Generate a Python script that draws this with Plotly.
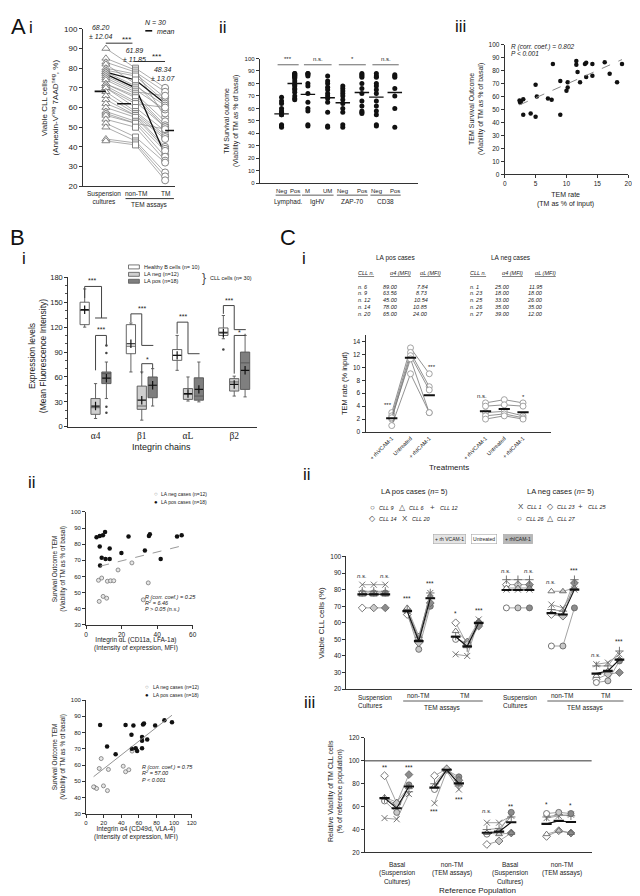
import numpy as np
import plotly.graph_objects as go

W, H = 640, 896
FONT = "Liberation Sans, Arial, sans-serif"
SERIF = "Liberation Serif, DejaVu Serif, serif"

def PX(x):
    return x / W

def PY(y):
    return 1 - y / H

# ======================= DATA =======================
# --- A i : viability, 30 patients
ai_categories = ["Suspension<br>cultures", "non-TM", "TM"]
ai_suspension = [90, 85, 83, 82, 80, 79, 78, 78, 77, 76, 75, 74, 72, 72, 71, 70, 70, 68, 66, 64, 62, 60, 58, 57, 56, 54, 52, 50, 44, 43]
ai_nontm = [80, 79, 78, 72, 77, 76, 74, 71, 70, 69, 68, 67, 66, 65, 63, 62, 60, 58, 57, 56, 56, 55, 53, 52, 52, 50, 45, 43, 42, 41]
ai_tm = [70, 55, 68, 57, 65, 63, 62, 61, 36, 59, 66, 53, 51, 50, 50, 60, 48, 46, 45, 44, 40, 39, 38, 49, 35, 33, 32, 27, 25, 23]
ai_highlight = [6, 8]
ai_stats = ["68.20<br>± 12.04", "61.89<br>± 11.85", "48.34<br>± 13.07"]

# --- A ii : TM survival outcome by prognostic marker
aii_groups = ["Lymphad.", "IgHV", "ZAP-70", "CD38"]
aii_sublabels = ["Neg", "Pos", "M", "UM", "Neg", "Pos", "Neg", "Pos"]
aii_values = [
    [69, 66, 64, 60, 58, 57, 55, 55, 47, 46, 45, 46],
    [88, 88, 87, 87, 86, 86, 85, 84, 82, 80, 79, 78, 76, 75, 73, 70, 68, 67],
    [88, 88, 87, 86, 80, 78, 72, 65, 60, 58, 47, 46],
    [86, 82, 80, 77, 75, 72, 70, 68, 65, 57, 46, 45],
    [78, 76, 74, 72, 70, 67, 64, 60, 57, 47, 45],
    [88, 87, 86, 85, 80, 76, 72, 66, 62, 58, 57, 56],
    [88, 86, 85, 80, 78, 75, 72, 66, 62, 58, 55, 47, 46],
    [87, 86, 85, 76, 70, 60, 45],
]
aii_significance = ["***", "n.s.", "*", "n.s."]

# --- A iii : TEM rate vs survival outcome
aiii_tem_rate = [2.4, 2.5, 2.6, 3.0, 3.0, 4.2, 5.0, 5.0, 5.2, 7.0, 7.6, 7.8, 9.0, 9.0, 10.0, 10.2, 10.2,
                 11.6, 11.6, 11.8, 12.2, 13.0, 13.2, 13.2, 14.2, 14.2, 16.2, 17.0, 18.2, 19.0]
aiii_survival = [57, 55.5, 56, 58, 46, 47, 44.5, 69, 60, 58.5, 57.5, 85, 72, 46, 64.5, 71, 67,
                 87.5, 84.5, 79, 71, 85, 86, 75, 85, 76, 86.5, 77.5, 71, 85]

# --- B i : integrin expression (box statistics)
bi_chains = ["α4", "β1", "αL", "β2"]
bi_groups = ["Healthy B cells (n= 10)", "LA neg (n=12)", "LA pos (n=18)"]
bi_q1 = [[123, 88, 80, 110], [15, 21, 33, 43], [52, 35, 32, 45]]
bi_median = [[140, 97, 86, 114], [23, 25, 39, 54], [64, 50, 37, 77]]
bi_q3 = [[150, 123, 93, 119], [34, 49, 46, 58], [66, 60, 59, 90]]
bi_low = [[120, 66, 68, 106], [10, 8, 31, 37], [34, 25, 30, 36]]
bi_high = [[166, 125, 110, 134], [52, 66, 60, 61], [78, 70, 78, 110]]
bi_mean = [[141, 100, 86, 113], [25, 32, 40, 51], [58.5, 50, 45, 68]]
bi_outliers = [[(4, 93)], [], [(1, 98), (1, 89), (1, 24), (1, 17)]]

# --- B ii : integrin alpha-L / alpha-4 vs survival
bii_aL_pos_x = [5.9, 7.7, 10.7, 7.7, 8.8, 11.0, 13.3, 13.3, 7.9, 19.9, 23.9, 33.1, 35.4, 35.9, 42.0, 51.2, 53.8, 9.5]
bii_aL_pos_y = [84.3, 85.0, 87.5, 78.6, 71.6, 70.8, 70.8, 77.3, 66.7, 74.5, 84.7, 76.1, 85.0, 86.1, 70.8, 84.7, 85.5, 85.5]
bii_aL_neg_x = [7.0, 8.8, 12.0, 13.8, 15.6, 18.0, 25.8, 7.4, 9.6, 11.6, 32.2, 35.0]
bii_aL_neg_y = [57.6, 59.0, 57.0, 57.3, 57.3, 64.0, 68.4, 44.5, 47.6, 46.5, 45.5, 56.0]
bii_a4_pos_x = [16, 44.9, 53.8, 64.7, 65.8, 78.5, 89, 97.6, 51.6, 63.6, 69.5, 63.6, 23.9, 56.4, 63.6, 33.6, 58.0, 52.0]
bii_a4_pos_y = [84.7, 84.7, 84.3, 84.9, 85.5, 84.3, 87.6, 86.3, 78.6, 77.3, 75.7, 74.9, 71.4, 70.4, 70.4, 66.6, 68.7, 70.0]
bii_a4_neg_x = [17.2, 15.0, 25.4, 42.2, 44.9, 48.6, 52.3, 9.7, 12.0, 19.8, 24.3, 8.6]
bii_a4_neg_y = [64.0, 57.9, 57.3, 59.3, 55.9, 57.1, 68.6, 46.4, 45.6, 47.2, 44.3, 46.6]

# --- C i : table + TEM rate per treatment
ci_pos_ids = ["n. 6", "n. 9", "n. 12", "n. 14", "n. 20"]
ci_pos_a4 = [89.00, 63.56, 45.00, 78.00, 65.00]
ci_pos_aL = [7.84, 8.73, 10.54, 10.85, 24.00]
ci_neg_ids = ["n. 1", "n. 23", "n. 25", "n. 26", "n. 27"]
ci_neg_a4 = [25.00, 18.00, 33.00, 35.00, 39.00]
ci_neg_aL = [11.95, 18.00, 26.00, 35.00, 12.00]
ci_treatments = ["+ rhVCAM-1", "Untreated", "+ rhICAM-1"]
ci_pos_rates = [[3.0, 13.0, 9.0], [2.5, 12.3, 7.0], [2.0, 11.8, 6.5], [2.2, 11.3, 3.0], [1.0, 9.0, 3.0]]
ci_neg_rates = [[4.5, 5.0, 4.5], [4.0, 4.2, 4.0], [3.0, 3.2, 2.5], [2.5, 2.8, 2.2], [2.0, 2.5, 2.0]]

# --- C ii : viability per case (rhVCAM-1, untreated, rhICAM-1)
pos_cases = ["CLL 9", "CLL 6", "CLL 12", "CLL 14", "CLL 20"]
neg_cases = ["CLL 1", "CLL 23", "CLL 25", "CLL 26", "CLL 27"]
cii_pos_susp = [[78, 78, 78], [77, 77, 77], [79, 79, 79], [69, 69, 69], [83, 83, 83]]
cii_pos_nontm = [[66, 44, 70], [69, 52, 76], [68, 50, 78], [65, 48, 72], [67, 51, 78]]
cii_pos_tm = [[50, 48, 60], [55, 49, 61], [52, 45, 59], [60, 47, 58], [41, 40, 62]]
cii_neg_susp = [[80, 80, 80], [83, 83, 83], [86, 86, 86], [69, 69, 69], [81, 81, 81]]
cii_neg_nontm = [[71, 69, 80], [65, 64, 84], [68, 67, 86], [46, 46, 69], [79, 79, 81]]
cii_neg_tm = [[35, 36, 41], [26, 29, 30], [34, 34, 43], [24, 25, 37], [28, 31, 38]]
cii_sig = [["n.s.", "n.s."], ["***", "***"], ["*", "***"], ["n.s.", "n.s."], ["n.s.", "***"], ["n.s.", "***"]]

# --- C iii : relative viability of TM cells
ciii_pos_basal = [[65, 55, 79], [68, 64, 77], [67, 62, 73], [87, 63, 88], [50, 49, 71]]
ciii_pos_nontm = [[75, 92, 86], [78, 92, 80], [80, 93, 78], [87, 93, 83], [63, 91, 75]]
ciii_neg_basal = [[46, 46, 52], [27, 30, 37], [40, 41, 51], [36, 38, 55], [37, 36, 37]]
ciii_neg_nontm = [[50, 52, 53], [34, 39, 37], [51, 53, 52], [54, 55, 54], [36, 39, 37]]
ciii_reference = 100

# ======================= FIGURE =======================
fig = go.Figure()
ann = []
shapes = []
layout_axes = {}


def T(text, x, y, size=7, color="#222", xanchor="center", yanchor="middle", angle=0,
      family=FONT, xref="paper", yref="paper", italic=False, **kw):
    if xref == "paper":
        x = PX(x)
    if yref == "paper":
        y = PY(y)
    if italic:
        text = "<i>" + text + "</i>"
    ann.append(dict(text=text, x=x, y=y, xref=xref, yref=yref, showarrow=False,
                    xanchor=xanchor, yanchor=yanchor, textangle=angle,
                    font=dict(size=size, color=color, family=family), **kw))


def L(x0, y0, x1, y1, xref="paper", yref="paper", color="#333", width=1, dash=None):
    if xref == "paper":
        x0, x1 = PX(x0), PX(x1)
    if yref == "paper":
        y0, y1 = PY(y0), PY(y1)
    shapes.append(dict(type="line", x0=x0, y0=y0, x1=x1, y1=y1, xref=xref, yref=yref,
                       line=dict(color=color, width=width, dash=dash)))


def axes(i, x0, x1, y0, y1, xr, yr, xkw=None, ykw=None):
    sx = "" if i == 1 else str(i)
    base = dict(showline=True, linecolor="#333", linewidth=1, ticks="outside", ticklen=3,
                tickwidth=1, tickcolor="#333", showgrid=False, zeroline=False,
                tickfont=dict(size=7, family=FONT, color="#222"), fixedrange=True)
    xd = dict(base, domain=[PX(x0), PX(x1)], range=xr, anchor="y" + sx)
    yd = dict(base, domain=[PY(y1), PY(y0)], range=yr, anchor="x" + sx)
    if xkw:
        xd.update(xkw)
    if ykw:
        yd.update(ykw)
    layout_axes["xaxis" + sx] = xd
    layout_axes["yaxis" + sx] = yd
    return "x" + sx, "y" + sx


def S(xa, ya, **kw):
    fig.add_trace(go.Scatter(xaxis=xa, yaxis=ya, hoverinfo="skip", showlegend=False, **kw))


NOX = dict(showticklabels=False, ticks="")

# ---------------- Panel labels ----------------
for txt, x, y, s in [("A", 9, 15, 22), ("i", 21, 16, 17), ("ii", 216, 16, 17), ("iii", 456, 15, 17),
                     ("B", 8, 228, 22), ("i", 14, 249, 17), ("C", 282, 228, 22), ("i", 298, 249, 17),
                     ("ii", 22, 475, 17), ("ii", 301, 467, 17), ("iii", 303, 698, 17)]:
    T(txt, x, y, size=s, color="#111")

# ---------------- A i ----------------
xa, ya = axes(1, 74, 167, 17, 176, [0.23, 3.33], [20, 100], NOX,
              dict(tickvals=list(range(20, 101, 10)), tickfont=dict(size=8, family=FONT, color="#222")))
ai_x = [1, 2, 3]
lx, ly, hx, hy = [], [], [], []
for i in range(len(ai_suspension)):
    trip = [ai_suspension[i], ai_nontm[i], ai_tm[i]]
    if i in ai_highlight:
        hx += ai_x + [None]
        hy += trip + [None]
    else:
        lx += ai_x + [None]
        ly += trip + [None]
S(xa, ya, x=lx, y=ly, mode="lines", line=dict(color="#8a8a8a", width=0.7))
S(xa, ya, x=hx, y=hy, mode="lines", line=dict(color="#111", width=1.3))
for xv, vals, sym, sz in [(1, ai_suspension, "triangle-up", 7), (2, ai_nontm, "square", 6), (3, ai_tm, "circle", 7)]:
    S(xa, ya, x=[xv] * len(vals), y=vals, mode="markers",
      marker=dict(symbol=sym, size=sz, color="white", line=dict(color="#777", width=0.9)))
ai_bar_x = [(0.62, 1.0), (1.38, 1.85), (3.0, 3.3)]
for (b0, b1), vals in zip(ai_bar_x, [ai_suspension, ai_nontm, ai_tm]):
    m = float(np.mean(vals))
    S(xa, ya, x=[b0, b1], y=[m, m], mode="lines", line=dict(color="#111", width=1.6))
T("Viable CLL cells<br>(Annexin-V<sup>neg</sup> 7AAD<sup>neg</sup>, %)", 40, 97, size=8, angle=-90)
T(ai_stats[0], 92, 20, size=7, italic=True)
T(ai_stats[1], 126, 43, size=7, italic=True)
T(ai_stats[2], 155, 63, size=7, italic=True)
T("***", 118, 28, size=8)
L(97, 31.5, 124, 31.5)
T("***", 148, 45, size=8)
L(126, 50, 157, 50)
T("N = 30", 147, 11, size=7, italic=True)
L(137, 19, 144, 19, color="#111", width=1.6)
T("mean", 147, 19.5, size=7, italic=True, xanchor="left")
T(ai_categories[0], 95, 187, size=6.5)
T(ai_categories[1], 128, 183, size=6.5)
T(ai_categories[2], 157, 183, size=6.5)
L(117, 188.5, 166, 188.5)
T("TEM assays", 141, 195, size=6.5)

# ---------------- A ii ----------------
xa, ya = axes(2, 253, 413, 47, 173, [0, 12], [0, 100], NOX,
              dict(tickvals=list(range(0, 101, 10)), tickfont=dict(size=6, family=FONT, color="#222")))
aii_pos = [1.65, 2.65, 3.65, 5.15, 6.3, 7.75, 8.85, 10.25]
for p, vals in zip(aii_pos, aii_values):
    S(xa, ya, x=[p] * len(vals), y=vals, mode="markers",
      marker=dict(symbol="circle", size=5, color="#111"))
    m = float(np.mean(vals))
    S(xa, ya, x=[p - 0.55, p + 0.55], y=[m, m], mode="lines", line=dict(color="#111", width=1.4))
for g in range(4):
    p0, p1 = aii_pos[2 * g], aii_pos[2 * g + 1]
    L(p0 - 0.3, 95, p1 + 0.3, 95, xref=xa, yref=ya, color="#444", width=0.8)
    T(aii_significance[g], (p0 + p1) / 2, 100, size=6, xref=xa, yref=ya)
    T(aii_sublabels[2 * g], p0, 181, size=6, xref=xa)
    T(aii_sublabels[2 * g + 1], p1, 181, size=6, xref=xa)
    L(p0 - 0.45, 185, p1 + 0.45, 185, xref=xa, width=0.8)
    T(aii_groups[g], (p0 + p1) / 2, 191.5, size=6.5, xref=xa)
T("TM Survival outcome<br>(Viability of TM as % of basal)", 225, 110, size=7, angle=-90)

# ---------------- A iii ----------------
xa, ya = axes(3, 501, 626, 33, 164, [0, 20], [0, 100],
              dict(tickvals=[0, 5, 10, 15, 20], tickfont=dict(size=6.5, family=FONT, color="#222")),
              dict(tickvals=list(range(0, 101, 10)), tickfont=dict(size=6.5, family=FONT, color="#222")))
S(xa, ya, x=aiii_tem_rate, y=aiii_survival, mode="markers", marker=dict(size=4.5, color="#111"))
k, b = np.polyfit(aiii_tem_rate, aiii_survival, 1)
fx = [min(aiii_tem_rate), max(aiii_tem_rate)]
S(xa, ya, x=fx, y=[k * v + b for v in fx], mode="lines", line=dict(color="#888", width=1, dash="dash"))
T("R (corr. coef.) = 0.802", 505, 35, size=6.5, italic=True, xanchor="left")
T("P < 0.001", 505, 42, size=6.5, italic=True, xanchor="left")
T("TEM Survival Outcome<br>(Viability of TM as % of basal)", 472, 98, size=7, angle=-90)
T("TEM rate<br>(TM as % of input)", 563, 189, size=7)

# ---------------- B i ----------------
xa, ya = axes(4, 59, 250, 268, 419, [0.41, 4.49], [0, 180],
              dict(tickvals=[1, 2, 3, 4], ticktext=bi_chains, ticks="",
                   tickfont=dict(size=9.5, family=SERIF, color="#222")),
              dict(tickvals=list(range(0, 181, 30)), tickfont=dict(size=7.5, family=FONT, color="#222"),
                   minor=dict(ticks="outside", ticklen=2, dtick=10, tickcolor="#555")))
bi_offsets = [-0.235, 0.0, 0.235]
bi_fill = ["white", "#cfcfcf", "#7f7f7f"]
for gi in range(3):
    xs = [c + 1 + bi_offsets[gi] for c in range(4)]
    fig.add_trace(go.Box(x=xs, q1=bi_q1[gi], median=bi_median[gi], q3=bi_q3[gi],
                         lowerfence=bi_low[gi], upperfence=bi_high[gi], width=0.2,
                         fillcolor=bi_fill[gi], line=dict(color="#555", width=0.9),
                         whiskerwidth=0.35, boxpoints=False, xaxis=xa, yaxis=ya,
                         hoverinfo="skip", showlegend=False))
    S(xa, ya, x=xs, y=bi_mean[gi], mode="markers",
      marker=dict(symbol="cross-thin", size=6, line=dict(color="#111", width=1.2)))
    if bi_outliers[gi]:
        S(xa, ya, x=[c + bi_offsets[gi] for c, _ in bi_outliers[gi]], y=[v for _, v in bi_outliers[gi]],
          mode="markers", marker=dict(size=2.5, color="#444"))
bi_brackets = [
    [(0.765, 155), (0.765, 169), (1.13, 169), (1.13, 131)], [(0.99, 131), (1.25, 131)],
    [(1.0, 68), (1.0, 110), (1.235, 110), (1.235, 98)],
    [(1.765, 126), (1.765, 136), (2.0, 136), (2.0, 98)], [(2.0, 98), (2.25, 98)],
    [(2.0, 64), (2.0, 76), (2.235, 76), (2.235, 70)],
    [(2.765, 112), (2.765, 126), (3.0, 126), (3.0, 88)], [(3.0, 88), (3.25, 88)],
    [(3.765, 136), (3.765, 146), (4.0, 146), (4.0, 117)], [(4.0, 117), (4.25, 117)],
    [(4.0, 64), (4.0, 110), (4.235, 110), (4.235, 112)],
]
bx, by = [], []
for br in bi_brackets:
    bx += [p[0] for p in br] + [None]
    by += [p[1] for p in br] + [None]
S(xa, ya, x=bx, y=by, mode="lines", line=dict(color="#444", width=1))
for txt, x, y in [("***", 0.93, 176), ("***", 1.12, 117), ("***", 2.0, 143), ("*", 2.12, 81),
                  ("***", 2.9, 133), ("***", 3.88, 152), ("*", 4.12, 114)]:
    T(txt, x, y, size=7, xref=xa, yref=ya)
T("Expression levels<br>(Mean Fluorescence Intensity)", 28, 348, size=8.5, angle=-90)
T("Integrin chains", 153, 439, size=9)
for (yy, fill, lab) in [(257.5, bi_fill[0], bi_groups[0]), (265, bi_fill[1], bi_groups[1]), (272, bi_fill[2], bi_groups[2])]:
    shapes.append(dict(type="rect", x0=PX(120), x1=PX(131), y0=PY(yy - 2), y1=PY(yy + 2),
                       xref="paper", yref="paper", fillcolor=fill, line=dict(color="#555", width=0.8)))
    T(lab, 134, yy, size=5.5, xanchor="left")
T("}", 196, 268.5, size=12, color="#444")
T("CLL cells (n= 30)", 200, 268.5, size=5.5, xanchor="left")

# ---------------- B ii (top: alpha L) ----------------
xa, ya = axes(5, 77, 185, 505, 619, [0, 60], [30, 100],
              dict(tickvals=[0, 20, 40, 60], tickfont=dict(size=6.5, family=FONT, color="#222")),
              dict(tickvals=list(range(30, 101, 10)), tickfont=dict(size=6, family=FONT, color="#222")))
S(xa, ya, x=bii_aL_neg_x, y=bii_aL_neg_y, mode="markers",
  marker=dict(size=4, color="#e6e6e6", line=dict(color="#777", width=0.8)))
S(xa, ya, x=bii_aL_pos_x, y=bii_aL_pos_y, mode="markers", marker=dict(size=4.5, color="#111"))
allx = bii_aL_pos_x + bii_aL_neg_x
ally = bii_aL_pos_y + bii_aL_neg_y
k, b = np.polyfit(allx, ally, 1)
fx = [8, max(allx)]
S(xa, ya, x=fx, y=[k * v + b for v in fx], mode="lines", line=dict(color="#999", width=1, dash="dash"))
T("R (corr. coef.) = 0.25", 32, 47.5, size=5.5, italic=True, xanchor="left", xref=xa, yref=ya)
T("R<sup>2</sup> = 6.46", 32, 43.5, size=5.5, italic=True, xanchor="left", xref=xa, yref=ya)
T("P > 0.05 (n.s.)", 32, 39.5, size=5.5, italic=True, xanchor="left", xref=xa, yref=ya)
T("Survival Outcome TEM<br>(Viability of TM as % of basal)", 50, 562, size=6.5, angle=-90)
T("Integrin αL (CD11a, LFA-1a)<br>(Intensity of expression, MFI)", 128, 638, size=6.5)
T("○", 148, 487, size=6, color="#777")
T("LA neg cases (n=12)", 151, 487, size=5, xanchor="left")
T("●", 148, 495, size=6, color="#111")
T("LA pos cases (n=18)", 151, 495, size=5, xanchor="left")

# ---------------- B ii (bottom: alpha 4) ----------------
xa, ya = axes(6, 77, 184, 695, 810, [0, 120], [30, 100],
              dict(tickvals=list(range(0, 121, 20)), tickfont=dict(size=6, family=FONT, color="#222")),
              dict(tickvals=list(range(30, 101, 10)), tickfont=dict(size=6, family=FONT, color="#222")))
S(xa, ya, x=bii_a4_neg_x, y=bii_a4_neg_y, mode="markers",
  marker=dict(size=4, color="#e6e6e6", line=dict(color="#777", width=0.8)))
S(xa, ya, x=bii_a4_pos_x, y=bii_a4_pos_y, mode="markers", marker=dict(size=4.5, color="#111"))
allx = bii_a4_pos_x + bii_a4_neg_x
ally = bii_a4_pos_y + bii_a4_neg_y
k, b = np.polyfit(allx, ally, 1)
fx = [min(allx), max(allx)]
S(xa, ya, x=fx, y=[k * v + b for v in fx], mode="lines", line=dict(color="#888", width=0.9))
T("R (corr. coef.) = 0.75", 61, 59, size=5.5, italic=True, xanchor="left", xref=xa, yref=ya)
T("R<sup>2</sup> = 57.00", 61, 55, size=5.5, italic=True, xanchor="left", xref=xa, yref=ya)
T("P < 0.001", 61, 51, size=5.5, italic=True, xanchor="left", xref=xa, yref=ya)
T("Survival Outcome TEM<br>(Viability of TM as % of basal)", 50, 752, size=6.5, angle=-90)
T("Integrin α4 (CD49d, VLA-4)<br>(Intensity of expression, MFI)", 128, 829, size=6.5)
T("○", 139, 682, size=6, color="#777")
T("LA neg cases (n=12)", 143, 682, size=5, xanchor="left")
T("●", 139, 690, size=6, color="#111")
T("LA pos cases (n=18)", 143, 690, size=5, xanchor="left")

# ---------------- C i ----------------
T("LA pos cases", 390, 249, size=6.5)
T("LA neg cases", 507, 249, size=6.5)
tab_cols = [(350, 395, 425, ci_pos_ids, ci_pos_a4, ci_pos_aL), (464, 508, 542, ci_neg_ids, ci_neg_a4, ci_neg_aL)]
row_y = [277.5, 284.3, 291.2, 298.2, 305.2]
for (c0, c1, c2, ids, a4, aL) in tab_cols:
    T("<u>CLL n.</u>", c0, 264, size=5.5, italic=True, xanchor="left")
    T("<u>α4 (MFI)</u>", c1 - 12, 264, size=5.5, italic=True, xanchor="left")
    T("<u>αL (MFI)</u>", c2 - 12, 264, size=5.5, italic=True, xanchor="left")
    for r in range(5):
        T(ids[r], c0, row_y[r], size=5.5, italic=True, xanchor="left")
        T(f"{a4[r]:.2f}", c1, row_y[r], size=5.5, italic=True, xanchor="right")
        T(f"{aL[r]:.2f}", c2, row_y[r], size=5.5, italic=True, xanchor="right")

xa, ya = axes(7, 360, 548, 326.2, 424.3, [-0.4, 9.5], [0, 15],
              dict(tickvals=[1, 2, 3, 6, 7, 8], ticktext=ci_treatments * 2, tickangle=-45,
                   ticks="", tickfont=dict(size=5.5, family=FONT, color="#222")),
              dict(tickvals=list(range(0, 15, 2)), tickfont=dict(size=6.5, family=FONT, color="#222")))
for base_x, rates in [([1, 2, 3], ci_pos_rates), ([6, 7, 8], ci_neg_rates)]:
    for r in rates:
        S(xa, ya, x=base_x, y=r, mode="lines+markers", line=dict(color="#777", width=0.8),
          marker=dict(size=6, color="white", line=dict(color="#999", width=0.9)))
    means = np.mean(np.array(rates), axis=0)
    for xv, m in zip(base_x, means):
        S(xa, ya, x=[xv - 0.3, xv + 0.3], y=[m, m], mode="lines", line=dict(color="#111", width=2))
for txt, x, y in [("***", 0.8, 4.2), ("***", 3.15, 10.0), ("n.s.", 5.8, 5.6), ("*", 8.0, 5.4)]:
    T(txt, x, y, size=6, xref=xa, yref=ya)
T("TEM rate (% input)", 338, 375, size=7.5, angle=-90)
T("Treatments", 445, 460, size=8)

# ---------------- C ii ----------------
T("LA pos cases (<i>n</i>= 5)", 410, 484, size=7.5)
T("LA neg cases (<i>n</i>= 5)", 557, 484, size=7.5)
leg_items = [("○", 367, 501, pos_cases[0]), ("△", 397, 501, pos_cases[1]), ("+", 428, 501, pos_cases[2]),
             ("◇", 367, 512, pos_cases[3]), ("X", 400, 512, pos_cases[4]),
             ("X", 517, 500, neg_cases[0]), ("◇", 547, 500, neg_cases[1]), ("+", 578, 500, neg_cases[2]),
             ("○", 516, 512, neg_cases[3]), ("△", 547, 512, neg_cases[4])]
for sym, x, y, lab in leg_items:
    T(sym, x, y, size=8, color="#444")
    T(lab, x + 5, y, size=5.5, italic=True, xanchor="left")
for lab, x, bg in [(ci_treatments[0].replace("rh", "rh "), 445, "#e4e4e4"), (ci_treatments[1], 480, "white"),
                   (ci_treatments[2], 514, "#b8b8b8")]:
    T(lab, x, 532, size=5, bgcolor=bg, bordercolor="#aaa", borderwidth=0.6, borderpad=1.5)

xa, ya = axes(8, 340.7, 637, 550, 684, [-0.37, 25], [20, 100], NOX,
              dict(tickvals=list(range(20, 101, 10)), tickfont=dict(size=6.5, family=FONT, color="#222")))
pos_symbols = ["circle", "triangle-up", "cross-thin", "diamond", "x-thin"]
neg_symbols = ["x-thin", "diamond", "cross-thin", "circle", "triangle-up"]
fills = ["white", "#c8c8c8", "#8c8c8c"]
cii_group_x0 = [1, 4.9, 9.1, 13.5, 17.4, 21.3]


def case_traces(xa, ya, groups, gx0, symbols):
    n_cases = len(groups[0])
    for c in range(n_cases):
        xs, ys, cols = [], [], []
        for g, data in enumerate(groups):
            xs += [gx0[g] + j for j in range(3)] + [None]
            ys += list(data[c]) + [None]
            cols += fills + ["white"]
        S(xa, ya, x=xs, y=ys, mode="lines+markers", line=dict(color="#8a8a8a", width=0.8),
          marker=dict(symbol=symbols[c], size=6, color=cols, line=dict(color="#666", width=0.9)))
    for g, data in enumerate(groups):
        means = np.mean(np.array(data), axis=0)
        xs = [gx0[g] + j for j in range(3)]
        S(xa, ya, x=xs, y=means, mode="lines", line=dict(color="#111", width=1.1))
        for xv, m in zip(xs, means):
            S(xa, ya, x=[xv - 0.42, xv + 0.42], y=[m, m], mode="lines", line=dict(color="#111", width=2.2))


case_traces(xa, ya, [cii_pos_susp, cii_pos_nontm, cii_pos_tm], cii_group_x0[:3], pos_symbols)
case_traces(xa, ya, [cii_neg_susp, cii_neg_nontm, cii_neg_tm], cii_group_x0[3:], neg_symbols)
all_groups = [cii_pos_susp, cii_pos_nontm, cii_pos_tm, cii_neg_susp, cii_neg_nontm, cii_neg_tm]
for g, data in enumerate(all_groups):
    top0 = max(r[0] for r in data)
    top2 = max(r[2] for r in data)
    for j, topv in [(0, top0), (2, top2)]:
        txt = cii_sig[g][0 if j == 0 else 1]
        T(txt, cii_group_x0[g] + j, topv + 5.5, size=6.5 if txt != "n.s." else 6,
          italic=(txt == "n.s."), xref=xa, yref=ya)
for gx in [0, 3]:
    x0 = cii_group_x0[gx]
    T("Suspension<br>Cultures", x0 - 0.5, 697, size=6.5, xanchor="left", xref=xa, align="left")
    T("non-TM", cii_group_x0[gx + 1] + 0.9, 690, size=6.5, xref=xa)
    T("TM", cii_group_x0[gx + 2] + 0.8, 690, size=6.5, xref=xa)
    L(cii_group_x0[gx + 1] - 0.35, 696, cii_group_x0[gx + 2] + 2.35, 696, xref=xa, width=0.8)
    T("TEM assays", (cii_group_x0[gx + 1] + cii_group_x0[gx + 2] + 2) / 2, 703, size=6.5, xref=xa)
T("Viable CLL cells (%)", 316, 617, size=8, angle=-90)

# ---------------- C iii ----------------
xa, ya = axes(9, 359.3, 589, 733.3, 849, [-0.62, 18], [20, 120], NOX,
              dict(tickvals=list(range(20, 121, 20)), tickfont=dict(size=6.5, family=FONT, color="#222")))
shapes.append(dict(type="line", xref=xa + " domain", yref=ya, x0=0, x1=1, y0=ciii_reference,
                   y1=ciii_reference, line=dict(color="#333", width=1)))
ciii_group_x0 = [1, 5.1, 9.4, 14.3]
case_traces(xa, ya, [ciii_pos_basal, ciii_pos_nontm], ciii_group_x0[:2], pos_symbols)
case_traces(xa, ya, [ciii_neg_basal, ciii_neg_nontm], ciii_group_x0[2:], neg_symbols)
for txt, g, j, y in [("**", 0, 0, 94), ("***", 0, 2, 94), ("***", 1, 0, 56), ("***", 1, 2, 66),
                     ("n.s.", 2, 0, 56), ("**", 2, 2, 60), ("*", 3, 0, 62), ("*", 3, 2, 61)]:
    T(txt, ciii_group_x0[g] + j, y, size=6.5 if txt != "n.s." else 6, italic=(txt == "n.s."), xref=xa, yref=ya)
for g, lab in enumerate(["Basal<br>(Suspension<br>Cultures)", "non-TM<br>(TEM assays)",
                         "Basal<br>(Suspension<br>Cultures)", "non-TM<br>(TEM assays)"]):
    shift = [1.1, 1.4, 1.9, 1.3][g]
    T(lab, ciii_group_x0[g] + shift, 856, size=6.5, yanchor="top", xref=xa)
T("Relative Viability of TM CLL cells<br>(% of reference population)", 329, 787, size=7, angle=-90)
T("Reference Population", 473, 887, size=8)

fig.update_layout(
    width=W, height=H, margin=dict(l=0, r=0, t=0, b=0),
    paper_bgcolor="white", plot_bgcolor="white", showlegend=False,
    boxmode="overlay", font=dict(family=FONT, color="#222"),
    annotations=ann, shapes=shapes, **layout_axes,
)
fig.write_html("out.html")
